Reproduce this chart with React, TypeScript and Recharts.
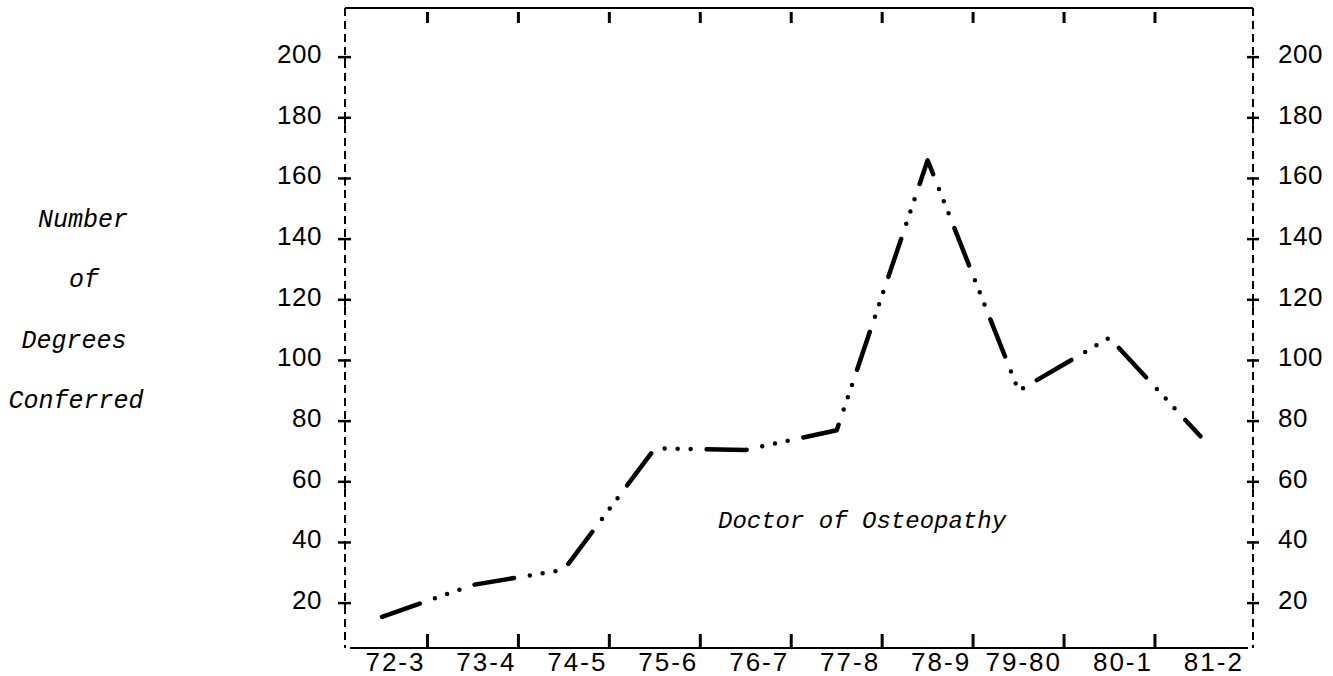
import React from 'react';
import { LineChart, Line, XAxis, YAxis, ReferenceLine } from 'recharts';

// ---- data ----
const categories = ['72-3', '73-4', '74-5', '75-6', '76-7', '77-8', '78-9', '79-80', '80-1', '81-2'];
const degrees = [15.5, 26, 31, 71, 70.5, 77, 166, 90, 107.5, 75];
const yTicks = [20, 40, 60, 80, 100, 120, 140, 160, 180, 200];
const titleLines = ['Number', 'of', 'Degrees', 'Conferred'];
const seriesLabel = 'Doctor of Osteopathy';

const data = categories.map((c, i) => ({ idx: i, year: c, value: degrees[i] }));
// category boundaries (where the tick marks sit)
const boundaries = categories.map((_, i) => i + 0.5);
const innerBoundaries = boundaries.slice(0, categories.length - 1);

const X_DOMAIN: [number, number] = [-0.407, 9.578];
const Y_DOMAIN: [number, number] = [5.2, 216.2];

const tickFont = '"Liberation Sans", Arial, sans-serif';
const monoFont = '"Liberation Mono", "Courier New", monospace';

const LeftTick = (props: any) => {
  const { x, y, payload } = props;
  return (
    <g>
      <line x1={x - 7} x2={x + 6} y1={y} y2={y} stroke="#000" strokeWidth={2.5} />
      <line x1={x} x2={x} y1={y} y2={y + 7} stroke="#000" strokeWidth={2} />
      <text x={x - 23} y={y + 6} textAnchor="end" fontFamily={tickFont} fontSize={26} letterSpacing={0.5} fill="#000">
        {payload.value}
      </text>
    </g>
  );
};

const RightTick = (props: any) => {
  const { x, y, payload } = props;
  return (
    <g>
      <line x1={x - 6} x2={x + 6} y1={y} y2={y} stroke="#000" strokeWidth={2.5} />
      <line x1={x} x2={x} y1={y} y2={y + 7} stroke="#000" strokeWidth={2} />
      <text x={x + 25} y={y + 6} textAnchor="start" fontFamily={tickFont} fontSize={26} letterSpacing={0.5} fill="#000">
        {payload.value}
      </text>
    </g>
  );
};

const BottomTick = (props: any) => {
  const { x, y, payload } = props;
  const i = Math.round(payload.value - 0.5);
  return (
    <g>
      {i < categories.length - 1 && (
        <line x1={x} x2={x} y1={y - 14} y2={y - 1} stroke="#000" strokeWidth={3} />
      )}
      <text x={x - 2} y={y + 23} textAnchor="end" fontFamily={tickFont} fontSize={26} letterSpacing={2} fill="#000">
        {categories[i]}
      </text>
    </g>
  );
};

const TopTick = (props: any) => {
  const { x, y } = props;
  return <line x1={x} x2={x} y1={y + 4} y2={y + 15} stroke="#000" strokeWidth={3} />;
};

export default function App() {
  return (
    <div style={{ position: 'absolute', left: 0, top: 0, width: 1333, height: 676, background: '#fff' }}>
      <LineChart width={1333} height={676} data={data} margin={{ top: 0, right: 20, bottom: 0, left: 285 }}>
        <XAxis
          xAxisId="bottom"
          type="number"
          dataKey="idx"
          domain={X_DOMAIN}
          allowDataOverflow
          ticks={boundaries}
          interval={0}
          height={28}
          tickSize={0}
          tickMargin={0}
          tickLine={false}
          axisLine={false}
          tick={<BottomTick />}
        />
        <XAxis
          xAxisId="top"
          orientation="top"
          type="number"
          dataKey="idx"
          domain={X_DOMAIN}
          allowDataOverflow
          ticks={innerBoundaries}
          interval={0}
          height={8}
          tickSize={0}
          tickMargin={0}
          tickLine={false}
          axisLine={{ stroke: '#000', strokeWidth: 2 }}
          tick={<TopTick />}
        />
        <YAxis
          yAxisId="left"
          domain={Y_DOMAIN}
          allowDataOverflow
          ticks={yTicks}
          interval={0}
          width={60}
          tickSize={0}
          tickMargin={0}
          tickLine={false}
          axisLine={{ stroke: '#000', strokeWidth: 2, strokeDasharray: '8 5' }}
          tick={<LeftTick />}
        />
        <YAxis
          yAxisId="right"
          orientation="right"
          domain={Y_DOMAIN}
          allowDataOverflow
          ticks={yTicks}
          interval={0}
          width={60}
          tickSize={0}
          tickMargin={0}
          tickLine={false}
          axisLine={{ stroke: '#000', strokeWidth: 2, strokeDasharray: '8 5' }}
          tick={<RightTick />}
        />
        <ReferenceLine
          xAxisId="bottom"
          yAxisId="left"
          y={Y_DOMAIN[1]}
          stroke="#000"
          strokeWidth={2}
          ifOverflow="visible"
        />
        <ReferenceLine
          xAxisId="bottom"
          yAxisId="left"
          segment={[
            { x: -0.352, y: Y_DOMAIN[0] },
            { x: 9.523, y: Y_DOMAIN[0] },
          ]}
          stroke="#000"
          strokeWidth={2}
          ifOverflow="visible"
        />
        <Line
          xAxisId="bottom"
          yAxisId="left"
          type="linear"
          dataKey="value"
          stroke="#000"
          strokeWidth={4.5}
          strokeLinecap="round"
          strokeLinejoin="round"
          strokeDasharray="40 16 0 13 0 13 0 16"
          dot={false}
          activeDot={false}
          isAnimationActive={false}
        />
      </LineChart>
      <svg width={1333} height={676} style={{ position: 'absolute', left: 0, top: 0, pointerEvents: 'none' }}>
        {titleLines.map((t, i) => (
          <text
            key={t}
            x={[83, 84, 74, 76][i]}
            y={227 + i * 60.3}
            textAnchor="middle"
            fontFamily={monoFont}
            fontStyle="italic"
            fontSize={25}
            fill="#000"
          >
            {t}
          </text>
        ))}
        <text x={718} y={528} fontFamily={monoFont} fontStyle="italic" fontSize={24} fill="#000">
          {seriesLabel}
        </text>
      </svg>
    </div>
  );
}
